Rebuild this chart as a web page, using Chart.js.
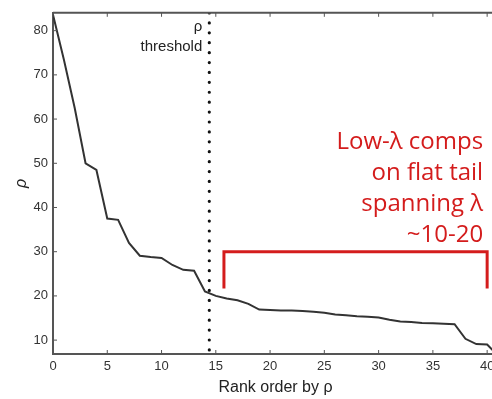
<!DOCTYPE html>
<html><head><meta charset="utf-8">
<script src="https://cdn.jsdelivr.net/npm/chart.js@4/dist/chart.umd.min.js"></script>
<style>
html,body{margin:0;padding:0;background:#fff;overflow:hidden;width:492px;height:399px;}
#wrap{position:absolute;left:0;top:0;width:510px;height:399px;}
</style></head>
<body><div id="wrap"><canvas id="c"></canvas></div>
<script>
// Data
const ranks = [0,1,2,3,4,5,6,7,8,9,10,11,12,13,14,15,16,17,18,19,20,21,22,23,24,25,26,27,28,29,30,31,32,33,34,35,36,37,38,39,40,41];
const rho = [83.6,73.5,62.5,50,48.5,37.5,37.2,32,29.1,28.8,28.6,27,25.9,25.7,21,20,19.4,19,18.2,16.9,16.8,16.7,16.7,16.6,16.4,16.2,15.8,15.6,15.4,15.3,15.1,14.6,14.2,14.1,13.9,13.8,13.7,13.6,10.3,9.1,9.0,6.5];
const xTicks = [0,5,10,15,20,25,30,35,40];
const yTicks = [10,20,30,40,50,60,70,80];
const thresholdX = [14.4,14.4];
const thresholdY = [84,7];
const bracketX = [15.75,15.75,40,40];
const bracketY = [21.7,30,30,21.7];
const annotationLines = ["Low-λ comps","on flat tail","spanning λ","~10-20"];
const thresholdLabel = ["ρ","threshold"];

const xMin = 0, xMax = 41, yMin = 6.86, yMax = 84.04;

const extras = {
  id:'extras',
  afterDatasetsDraw(chart){
    const ctx = chart.ctx, a = chart.chartArea;
    const xs = chart.scales.x, ys = chart.scales.y;
    ctx.save();
    // top border
    ctx.strokeStyle = '#555'; ctx.lineWidth = 2;
    ctx.beginPath(); ctx.moveTo(a.left, a.top); ctx.lineTo(a.right+2, a.top); ctx.stroke();
    // inward ticks
    ctx.lineWidth = 1; ctx.strokeStyle = '#555';
    xTicks.forEach(v=>{
      const p = xs.getPixelForValue(v);
      ctx.beginPath(); ctx.moveTo(p, a.bottom); ctx.lineTo(p, a.bottom-4); ctx.stroke();
      ctx.beginPath(); ctx.moveTo(p, a.top); ctx.lineTo(p, a.top+4); ctx.stroke();
    });
    yTicks.forEach(v=>{
      const p = ys.getPixelForValue(v);
      ctx.beginPath(); ctx.moveTo(a.left, p); ctx.lineTo(a.left+4, p); ctx.stroke();
    });
    // threshold label
    ctx.fillStyle = '#222';
    ctx.font = '15px "Liberation Sans", Arial, sans-serif';
    ctx.textAlign = 'right'; ctx.textBaseline = 'middle';
    const lx = xs.getPixelForValue(thresholdX[0]) - 7;
    ctx.fillText(thresholdLabel[0], lx, 27);
    ctx.fillText(thresholdLabel[1], lx, 47);
    // annotation
    ctx.fillStyle = '#d41c1c';
    ctx.font = '24px "Open Sans", "Noto Sans", sans-serif';
    const rx = xs.getPixelForValue(40) - 4;
    const ys0 = [142, 173, 204, 235];
    annotationLines.forEach((t,i)=>ctx.fillText(t, rx, ys0[i]));
    ctx.restore();
  }
};

new Chart(document.getElementById('c'), {
  type:'scatter',
  data:{
    datasets:[
      {data: ranks.map((r,i)=>({x:r,y:rho[i]})), showLine:true, borderColor:'#333', borderWidth:2, pointRadius:0, tension:0, order:2},
      {data: thresholdX.map((v,i)=>({x:v,y:thresholdY[i]})), showLine:true, borderColor:'#111', borderWidth:3.2, borderDash:[0.01,9.9], borderCapStyle:'round', pointRadius:0, order:1},
      {data: bracketX.map((v,i)=>({x:v,y:bracketY[i]})), showLine:true, borderColor:'#d41c1c', borderWidth:3, pointRadius:0, borderJoinStyle:'miter', order:0}
    ]
  },
  options:{
    responsive:true, maintainAspectRatio:false, animation:false,
    layout:{padding:{top:10,right:12,left:0,bottom:0}},
    plugins:{legend:{display:false}, tooltip:{enabled:false}},
    scales:{
      x:{type:'linear', min:xMin, max:xMax,
        afterBuildTicks(s){ s.ticks = xTicks.map(v=>({value:v})); },
        afterFit(s){ s.height = 45; },
        grid:{display:true, drawOnChartArea:false, drawTicks:false},
        border:{display:true, color:'#555', width:2},
        ticks:{padding:5, color:'#333', font:{family:'"Liberation Sans", Arial, sans-serif', size:13}, maxRotation:0, autoSkip:false},
        title:{display:true, text:'Rank order by ρ', color:'#222', font:{family:'"Liberation Sans", Arial, sans-serif', size:16}, padding:{top:4,bottom:2}}
      },
      y:{type:'linear', min:yMin, max:yMax,
        afterBuildTicks(s){ s.ticks = yTicks.map(v=>({value:v})); },
        afterFit(s){ s.width = 53; },
        grid:{display:true, drawOnChartArea:false, drawTicks:false},
        border:{display:true, color:'#555', width:2},
        ticks:{padding:5, color:'#333', font:{family:'"Liberation Sans", Arial, sans-serif', size:13}},
        title:{display:true, text:'ρ', color:'#222', font:{family:'"Liberation Sans", Arial, sans-serif', size:16, style:'italic'}, padding:{top:12,bottom:0}}
      }
    }
  },
  plugins:[extras]
});
</script></body></html>
